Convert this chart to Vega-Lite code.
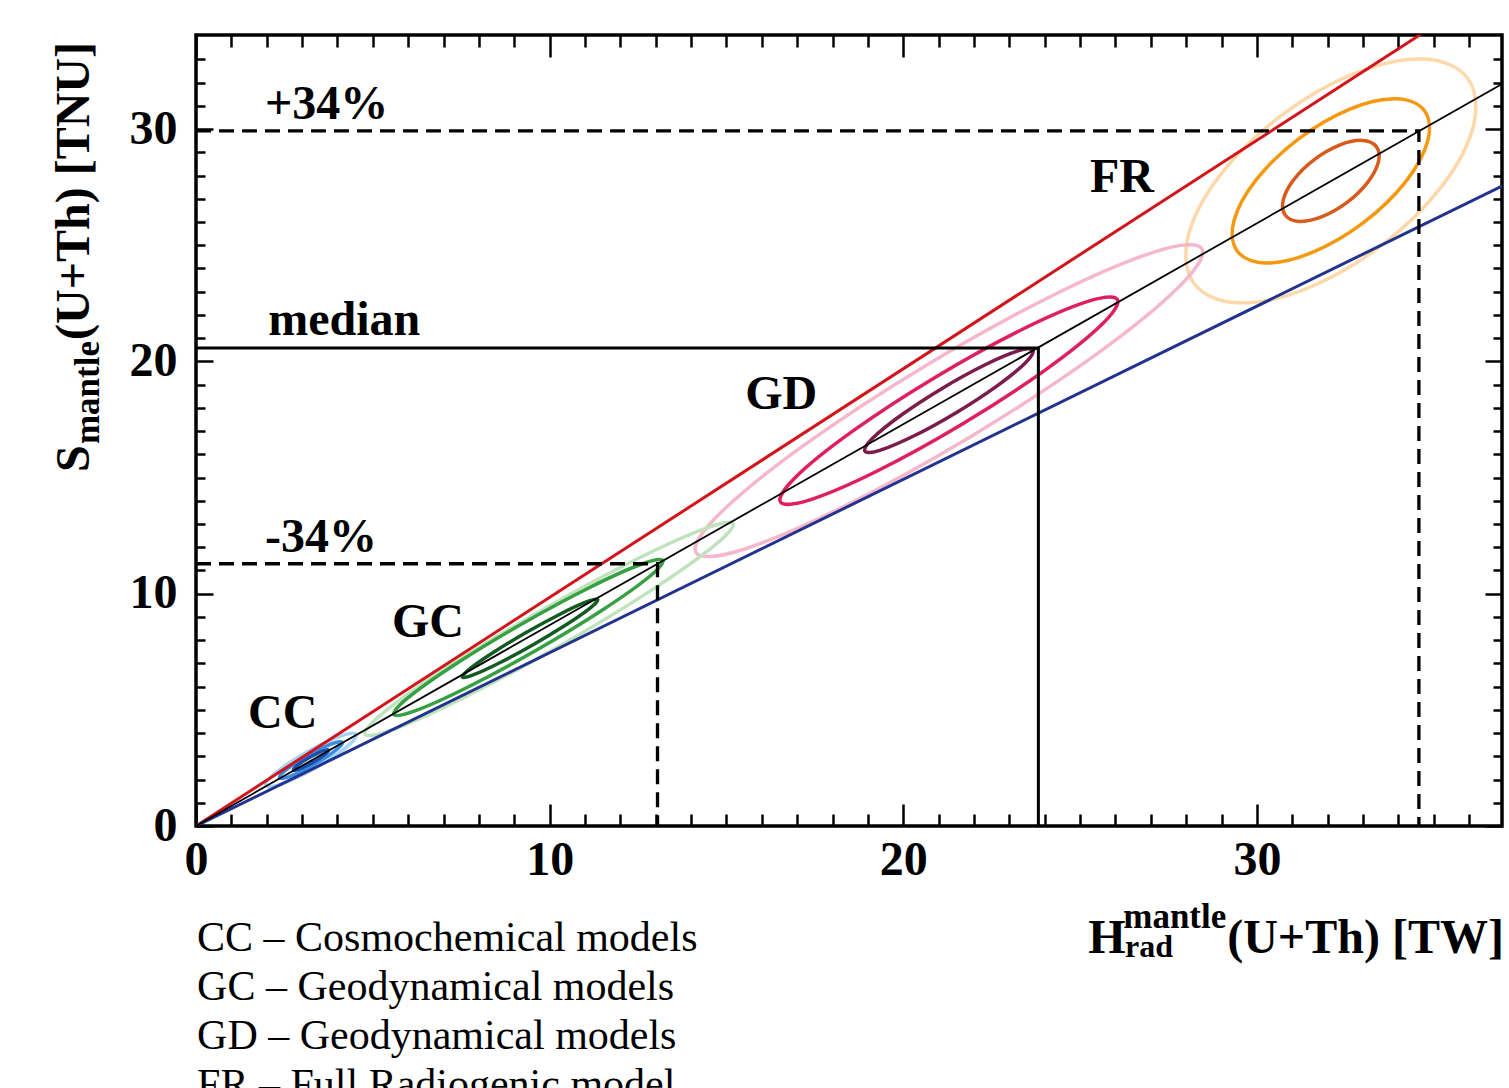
{
  "$schema": "https://vega.github.io/schema/vega-lite/v6.json",
  "width": 1306,
  "height": 791,
  "autosize": {"type": "none"},
  "padding": {"left": 196, "top": 35, "right": 7, "bottom": 262},
  "background": "white",
  "config": {"view": {"stroke": "black", "strokeWidth": 3.5}, "axis": {"grid": false}},
  "resolve": {"axis": {"x": "independent", "y": "independent"}},
  "datasets": {
    "ellipses": [
      {"e":"FR1","o":0,"x":35.952,"y":32.200},{"e":"FR1","o":1,"x":34.737,"y":33.016},{"e":"FR1","o":2,"x":32.812,"y":32.426},{"e":"FR1","o":3,"x":30.694,"y":30.589},{"e":"FR1","o":4,"x":28.950,"y":27.996},{"e":"FR1","o":5,"x":28.048,"y":25.343},{"e":"FR1","o":6,"x":28.228,"y":23.340},{"e":"FR1","o":7,"x":29.443,"y":22.524},{"e":"FR1","o":8,"x":31.368,"y":23.114},{"e":"FR1","o":9,"x":33.486,"y":24.951},{"e":"FR1","o":10,"x":35.230,"y":27.544},{"e":"FR1","o":11,"x":36.132,"y":30.197},
      {"e":"GD1","o":0,"x":28.442,"y":24.850},{"e":"GD1","o":1,"x":27.178,"y":24.749},{"e":"GD1","o":2,"x":24.336,"y":22.922},{"e":"GD1","o":3,"x":20.678,"y":19.860},{"e":"GD1","o":4,"x":17.184,"y":16.382},{"e":"GD1","o":5,"x":14.791,"y":13.421},{"e":"GD1","o":6,"x":14.138,"y":11.770},{"e":"GD1","o":7,"x":15.403,"y":11.871},{"e":"GD1","o":8,"x":18.244,"y":13.698},{"e":"GD1","o":9,"x":21.902,"y":16.760},{"e":"GD1","o":10,"x":25.396,"y":20.238},{"e":"GD1","o":11,"x":27.789,"y":23.199},
      {"e":"GC1","o":0,"x":15.186,"y":13.016},{"e":"GC1","o":1,"x":14.348,"y":12.782},{"e":"GC1","o":2,"x":12.341,"y":11.395},{"e":"GC1","o":3,"x":9.702,"y":9.227},{"e":"GC1","o":4,"x":7.138,"y":6.859},{"e":"GC1","o":5,"x":5.337,"y":4.926},{"e":"GC1","o":6,"x":4.780,"y":3.944},{"e":"GC1","o":7,"x":5.618,"y":4.179},{"e":"GC1","o":8,"x":7.625,"y":5.565},{"e":"GC1","o":9,"x":10.264,"y":7.733},{"e":"GC1","o":10,"x":12.828,"y":10.101},{"e":"GC1","o":11,"x":14.629,"y":12.034},
      {"e":"CC1","o":0,"x":4.529,"y":3.946},{"e":"CC1","o":1,"x":4.295,"y":3.966},{"e":"CC1","o":2,"x":3.781,"y":3.685},{"e":"CC1","o":3,"x":3.124,"y":3.177},{"e":"CC1","o":4,"x":2.502,"y":2.579},{"e":"CC1","o":5,"x":2.080,"y":2.051},{"e":"CC1","o":6,"x":1.971,"y":1.734},{"e":"CC1","o":7,"x":2.206,"y":1.714},{"e":"CC1","o":8,"x":2.720,"y":1.995},{"e":"CC1","o":9,"x":3.376,"y":2.503},{"e":"CC1","o":10,"x":3.998,"y":3.101},{"e":"CC1","o":11,"x":4.420,"y":3.629},
      {"e":"FR2","o":0,"x":34.732,"y":30.801},{"e":"FR2","o":1,"x":33.927,"y":31.306},{"e":"FR2","o":2,"x":32.630,"y":30.863},{"e":"FR2","o":3,"x":31.188,"y":29.592},{"e":"FR2","o":4,"x":29.988,"y":27.832},{"e":"FR2","o":5,"x":29.351,"y":26.056},{"e":"FR2","o":6,"x":29.448,"y":24.739},{"e":"FR2","o":7,"x":30.253,"y":24.234},{"e":"FR2","o":8,"x":31.550,"y":24.677},{"e":"FR2","o":9,"x":32.992,"y":25.948},{"e":"FR2","o":10,"x":34.192,"y":27.708},{"e":"FR2","o":11,"x":34.829,"y":29.484},
      {"e":"GD2","o":0,"x":26.054,"y":22.666},{"e":"GD2","o":1,"x":25.219,"y":22.581},{"e":"GD2","o":2,"x":23.331,"y":21.351},{"e":"GD2","o":3,"x":20.897,"y":19.306},{"e":"GD2","o":4,"x":18.568,"y":16.995},{"e":"GD2","o":5,"x":16.968,"y":15.036},{"e":"GD2","o":6,"x":16.526,"y":13.954},{"e":"GD2","o":7,"x":17.361,"y":14.039},{"e":"GD2","o":8,"x":19.249,"y":15.269},{"e":"GD2","o":9,"x":21.683,"y":17.314},{"e":"GD2","o":10,"x":24.012,"y":19.625},{"e":"GD2","o":11,"x":25.612,"y":21.584},
      {"e":"GC2","o":0,"x":13.202,"y":11.431},{"e":"GC2","o":1,"x":12.587,"y":11.267},{"e":"GC2","o":2,"x":11.117,"y":10.258},{"e":"GC2","o":3,"x":9.187,"y":8.675},{"e":"GC2","o":4,"x":7.313,"y":6.942},{"e":"GC2","o":5,"x":5.998,"y":5.523},{"e":"GC2","o":6,"x":5.594,"y":4.799},{"e":"GC2","o":7,"x":6.209,"y":4.963},{"e":"GC2","o":8,"x":7.679,"y":5.972},{"e":"GC2","o":9,"x":9.609,"y":7.555},{"e":"GC2","o":10,"x":11.483,"y":9.288},{"e":"GC2","o":11,"x":12.798,"y":10.707},
      {"e":"CC2","o":0,"x":4.135,"y":3.605},{"e":"CC2","o":1,"x":3.978,"y":3.606},{"e":"CC2","o":2,"x":3.626,"y":3.401},{"e":"CC2","o":3,"x":3.173,"y":3.046},{"e":"CC2","o":4,"x":2.741,"y":2.636},{"e":"CC2","o":5,"x":2.445,"y":2.280},{"e":"CC2","o":6,"x":2.365,"y":2.075},{"e":"CC2","o":7,"x":2.522,"y":2.074},{"e":"CC2","o":8,"x":2.874,"y":2.279},{"e":"CC2","o":9,"x":3.327,"y":2.634},{"e":"CC2","o":10,"x":3.759,"y":3.044},{"e":"CC2","o":11,"x":4.055,"y":3.400},
      {"e":"FR3","o":0,"x":33.377,"y":29.247},{"e":"FR3","o":1,"x":32.975,"y":29.513},{"e":"FR3","o":2,"x":32.336,"y":29.312},{"e":"FR3","o":3,"x":31.631,"y":28.698},{"e":"FR3","o":4,"x":31.048,"y":27.836},{"e":"FR3","o":5,"x":30.745,"y":26.955},{"e":"FR3","o":6,"x":30.803,"y":26.293},{"e":"FR3","o":7,"x":31.205,"y":26.027},{"e":"FR3","o":8,"x":31.844,"y":26.228},{"e":"FR3","o":9,"x":32.549,"y":26.842},{"e":"FR3","o":10,"x":33.132,"y":27.705},{"e":"FR3","o":11,"x":33.435,"y":28.585},
      {"e":"GD3","o":0,"x":23.666,"y":20.483},{"e":"GD3","o":1,"x":23.245,"y":20.450},{"e":"GD3","o":2,"x":22.301,"y":19.844},{"e":"GD3","o":3,"x":21.086,"y":18.827},{"e":"GD3","o":4,"x":19.926,"y":17.671},{"e":"GD3","o":5,"x":19.131,"y":16.687},{"e":"GD3","o":6,"x":18.914,"y":16.137},{"e":"GD3","o":7,"x":19.335,"y":16.170},{"e":"GD3","o":8,"x":20.279,"y":16.776},{"e":"GD3","o":9,"x":21.494,"y":17.793},{"e":"GD3","o":10,"x":22.654,"y":18.949},{"e":"GD3","o":11,"x":23.449,"y":19.933},
      {"e":"GC3","o":0,"x":11.360,"y":9.747},{"e":"GC3","o":1,"x":11.055,"y":9.654},{"e":"GC3","o":2,"x":10.318,"y":9.139},{"e":"GC3","o":3,"x":9.348,"y":8.340},{"e":"GC3","o":4,"x":8.404,"y":7.470},{"e":"GC3","o":5,"x":7.739,"y":6.764},{"e":"GC3","o":6,"x":7.532,"y":6.409},{"e":"GC3","o":7,"x":7.837,"y":6.502},{"e":"GC3","o":8,"x":8.574,"y":7.017},{"e":"GC3","o":9,"x":9.544,"y":7.817},{"e":"GC3","o":10,"x":10.488,"y":8.686},{"e":"GC3","o":11,"x":11.153,"y":9.392},
      {"e":"CC3","o":0,"x":3.742,"y":3.265},{"e":"CC3","o":1,"x":3.655,"y":3.264},{"e":"CC3","o":2,"x":3.460,"y":3.150},{"e":"CC3","o":3,"x":3.208,"y":2.952},{"e":"CC3","o":4,"x":2.968,"y":2.725},{"e":"CC3","o":5,"x":2.803,"y":2.528},{"e":"CC3","o":6,"x":2.758,"y":2.415},{"e":"CC3","o":7,"x":2.845,"y":2.416},{"e":"CC3","o":8,"x":3.040,"y":2.530},{"e":"CC3","o":9,"x":3.292,"y":2.728},{"e":"CC3","o":10,"x":3.532,"y":2.955},{"e":"CC3","o":11,"x":3.697,"y":3.152}
    ],
    "upper": [
      {"x":0,"y":0},{"x":36.93,"y":36.34}
    ],
    "lower": [
      {"x":0,"y":0},{"x":36.93,"y":27.55}
    ],
    "central": [
      {"x":0,"y":0},{"x":36.93,"y":31.94}
    ],
    "dashed": [
      {"g":"plus","o":0,"x":0,"y":29.92},{"g":"plus","o":1,"x":34.58,"y":29.92},{"g":"plus","o":2,"x":34.58,"y":0},
      {"g":"minus","o":0,"x":0,"y":11.29},{"g":"minus","o":1,"x":13.05,"y":11.29},{"g":"minus","o":2,"x":13.05,"y":0}
    ],
    "median": [
      {"o":0,"x":0,"y":20.58},{"o":1,"x":23.82,"y":20.58},{"o":2,"x":23.82,"y":0}
    ],
    "labels": [
      {"t":"+34%","x":1.95,"y":30.43},{"t":"median","x":2.04,"y":21.14},{"t":"-34%","x":1.95,"y":11.8},
      {"t":"FR","x":25.28,"y":27.29},{"t":"GD","x":15.53,"y":17.95},{"t":"GC","x":5.54,"y":8.14},{"t":"CC","x":1.47,"y":4.22},
      {"t":"H","x":25.23,"y":-5.467},{"t":"(U+Th) [TW]","x":29.16,"y":-5.467}
    ],
    "xsup": [
      {"t":"mantle","x":26.22,"y":-4.39}
    ],
    "xsub": [
      {"t":"rad","x":26.27,"y":-5.64}
    ],
    "ytitle": [
      {"t":"S","x":-3.026,"y":15.24},{"t":"(U+Th) [TNU]","x":-3.026,"y":20.92}
    ],
    "yscript": [
      {"t":"mantle","x":-2.743,"y":16.44}
    ],
    "legend": [
      {"t":"CC – Cosmochemical models","x":0.03,"y":-5.381},
      {"t":"GC – Geodynamical models","x":0.03,"y":-7.49},
      {"t":"GD – Geodynamical models","x":0.03,"y":-9.6},
      {"t":"FR – Full Radiogenic model","x":0.03,"y":-11.709}
    ]
  },
  "layer": [
    {
      "data": {"name": "ellipses"},
      "mark": {"type": "line", "interpolate": "cardinal-closed", "strokeWidth": 3.5},
      "encoding": {
        "x": {"field": "x", "type": "quantitative", "scale": {"domain": [0, 36.93], "nice": false, "zero": false},
          "axis": {"orient": "bottom", "values": [0,1,2,3,4,5,6,7,8,9,10,11,12,13,14,15,16,17,18,19,20,21,22,23,24,25,26,27,28,29,30,31,32,33,34,35,36],
            "domain": false, "grid": false, "title": null,
            "tickSize": {"condition": {"test": "datum.value % 10 === 0", "value": -22}, "value": -12},
            "tickWidth": 2.5, "tickColor": "black",
            "labelExpr": "datum.value % 10 === 0 ? datum.label : ''",
            "labelPadding": 32, "labelFont": "Liberation Serif", "labelFontWeight": "bold", "labelFontSize": 48,
            "labelColor": "black", "labelBaseline": "top", "labelAlign": "center", "labelFlush": false, "labelOverlap": false}},
        "y": {"field": "y", "type": "quantitative", "scale": {"domain": [0, 34.05], "nice": false, "zero": false},
          "axis": {"orient": "left", "values": [0,1,2,3,4,5,6,7,8,9,10,11,12,13,14,15,16,17,18,19,20,21,22,23,24,25,26,27,28,29,30,31,32,33],
            "domain": false, "grid": false, "title": null,
            "tickSize": {"condition": {"test": "datum.value % 10 === 0", "value": -17}, "value": -9},
            "tickWidth": 2.5, "tickColor": "black",
            "labelExpr": "datum.value % 10 === 0 ? datum.label : ''",
            "labelPadding": 36, "labelFont": "Liberation Serif", "labelFontWeight": "bold", "labelFontSize": 48,
            "labelColor": "black", "labelBaseline": "middle", "labelAlign": "right", "labelFlush": false, "labelOverlap": false}},
        "color": {"field": "e", "type": "nominal", "legend": null,
          "scale": {"domain": ["FR1","GD1","GC1","CC1","FR2","GD2","GC2","CC2","FR3","GD3","GC3","CC3"],
            "range": ["#fdd8aa","#f5b8cb","#bfe3bd","#a7d3f4","#f5980f","#df1f60","#37a043","#3b8de0","#d95b1b","#7b1c4c","#145a23","#1a4fa8"]}},
        "order": {"field": "o", "type": "quantitative"}
      }
    },
    {
      "data": {"name": "upper"},
      "mark": {"type": "line", "strokeWidth": 3, "color": "#d3141b", "clip": true},
      "encoding": {
        "x": {"field": "x", "type": "quantitative", "scale": {"domain": [0, 36.93], "nice": false, "zero": false},
          "axis": {"orient": "top", "values": [0,1,2,3,4,5,6,7,8,9,10,11,12,13,14,15,16,17,18,19,20,21,22,23,24,25,26,27,28,29,30,31,32,33,34,35,36],
            "domain": false, "grid": false, "title": null, "labels": false,
            "tickSize": {"condition": {"test": "datum.value % 10 === 0", "value": -22}, "value": -12},
            "tickWidth": 2.5, "tickColor": "black"}},
        "y": {"field": "y", "type": "quantitative", "scale": {"domain": [0, 34.05], "nice": false, "zero": false},
          "axis": {"orient": "right", "values": [0,1,2,3,4,5,6,7,8,9,10,11,12,13,14,15,16,17,18,19,20,21,22,23,24,25,26,27,28,29,30,31,32,33],
            "domain": false, "grid": false, "title": null, "labels": false,
            "tickSize": {"condition": {"test": "datum.value % 10 === 0", "value": -17}, "value": -9},
            "tickWidth": 2.5, "tickColor": "black"}}
      }
    },
    {
      "data": {"name": "lower"},
      "mark": {"type": "line", "strokeWidth": 3, "color": "#22328f", "clip": true},
      "encoding": {
        "x": {"field": "x", "type": "quantitative", "scale": {"domain": [0, 36.93], "nice": false, "zero": false}, "axis": null},
        "y": {"field": "y", "type": "quantitative", "scale": {"domain": [0, 34.05], "nice": false, "zero": false}, "axis": null}
      }
    },
    {
      "data": {"name": "central"},
      "mark": {"type": "line", "strokeWidth": 1.8, "color": "black", "clip": true},
      "encoding": {
        "x": {"field": "x", "type": "quantitative", "scale": {"domain": [0, 36.93], "nice": false, "zero": false}, "axis": null},
        "y": {"field": "y", "type": "quantitative", "scale": {"domain": [0, 34.05], "nice": false, "zero": false}, "axis": null}
      }
    },
    {
      "data": {"name": "dashed"},
      "mark": {"type": "line", "strokeWidth": 3.3, "color": "black", "strokeDash": [15, 8]},
      "encoding": {
        "x": {"field": "x", "type": "quantitative", "scale": {"domain": [0, 36.93], "nice": false, "zero": false}, "axis": null},
        "y": {"field": "y", "type": "quantitative", "scale": {"domain": [0, 34.05], "nice": false, "zero": false}, "axis": null},
        "detail": {"field": "g", "type": "nominal"},
        "order": {"field": "o", "type": "quantitative"}
      }
    },
    {
      "data": {"name": "median"},
      "mark": {"type": "line", "strokeWidth": 3, "color": "black"},
      "encoding": {
        "x": {"field": "x", "type": "quantitative", "scale": {"domain": [0, 36.93], "nice": false, "zero": false}, "axis": null},
        "y": {"field": "y", "type": "quantitative", "scale": {"domain": [0, 34.05], "nice": false, "zero": false}, "axis": null},
        "order": {"field": "o", "type": "quantitative"}
      }
    },
    {
      "data": {"name": "labels"},
      "mark": {"type": "text", "align": "left", "baseline": "alphabetic", "font": "Liberation Serif", "fontWeight": "bold", "fontSize": 48, "color": "black"},
      "encoding": {
        "x": {"field": "x", "type": "quantitative", "scale": {"domain": [0, 36.93], "nice": false, "zero": false}, "axis": null},
        "y": {"field": "y", "type": "quantitative", "scale": {"domain": [0, 34.05], "nice": false, "zero": false}, "axis": null},
        "text": {"field": "t"}
      }
    },
    {
      "data": {"name": "xsup"},
      "mark": {"type": "text", "align": "left", "baseline": "alphabetic", "font": "Liberation Serif", "fontWeight": "bold", "fontSize": 35, "color": "black"},
      "encoding": {
        "x": {"field": "x", "type": "quantitative", "scale": {"domain": [0, 36.93], "nice": false, "zero": false}, "axis": null},
        "y": {"field": "y", "type": "quantitative", "scale": {"domain": [0, 34.05], "nice": false, "zero": false}, "axis": null},
        "text": {"field": "t"}
      }
    },
    {
      "data": {"name": "xsub"},
      "mark": {"type": "text", "align": "left", "baseline": "alphabetic", "font": "Liberation Serif", "fontWeight": "bold", "fontSize": 32, "color": "black"},
      "encoding": {
        "x": {"field": "x", "type": "quantitative", "scale": {"domain": [0, 36.93], "nice": false, "zero": false}, "axis": null},
        "y": {"field": "y", "type": "quantitative", "scale": {"domain": [0, 34.05], "nice": false, "zero": false}, "axis": null},
        "text": {"field": "t"}
      }
    },
    {
      "data": {"name": "ytitle"},
      "mark": {"type": "text", "align": "left", "baseline": "alphabetic", "angle": 270, "font": "Liberation Serif", "fontWeight": "bold", "fontSize": 48, "color": "black"},
      "encoding": {
        "x": {"field": "x", "type": "quantitative", "scale": {"domain": [0, 36.93], "nice": false, "zero": false}, "axis": null},
        "y": {"field": "y", "type": "quantitative", "scale": {"domain": [0, 34.05], "nice": false, "zero": false}, "axis": null},
        "text": {"field": "t"}
      }
    },
    {
      "data": {"name": "yscript"},
      "mark": {"type": "text", "align": "left", "baseline": "alphabetic", "angle": 270, "font": "Liberation Serif", "fontWeight": "bold", "fontSize": 35, "color": "black"},
      "encoding": {
        "x": {"field": "x", "type": "quantitative", "scale": {"domain": [0, 36.93], "nice": false, "zero": false}, "axis": null},
        "y": {"field": "y", "type": "quantitative", "scale": {"domain": [0, 34.05], "nice": false, "zero": false}, "axis": null},
        "text": {"field": "t"}
      }
    },
    {
      "data": {"name": "legend"},
      "mark": {"type": "text", "align": "left", "baseline": "alphabetic", "font": "Liberation Serif", "fontSize": 42, "color": "black"},
      "encoding": {
        "x": {"field": "x", "type": "quantitative", "scale": {"domain": [0, 36.93], "nice": false, "zero": false}, "axis": null},
        "y": {"field": "y", "type": "quantitative", "scale": {"domain": [0, 34.05], "nice": false, "zero": false}, "axis": null},
        "text": {"field": "t"}
      }
    }
  ]
}
